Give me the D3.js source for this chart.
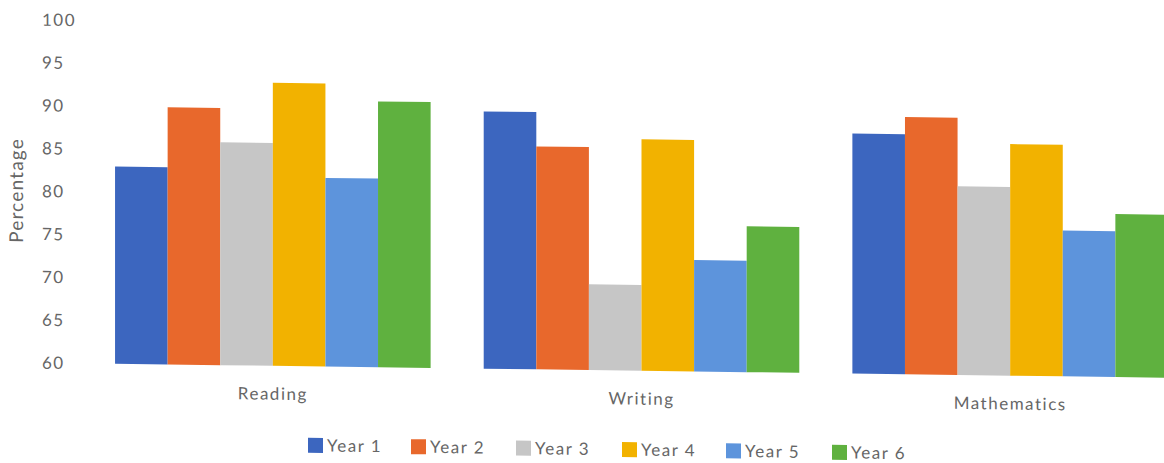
<!DOCTYPE html>
<html>
<head>
<meta charset="utf-8">
<script src="https://cdn.jsdelivr.net/npm/d3@7"></script>
<style>
  html, body { margin: 0; padding: 0; background: #fff; }
  svg { display: block; }
  text { font-family: Lato, "Open Sans", sans-serif; fill: #666; letter-spacing: 1.5px; }
</style>
</head>
<body>
<svg id="chart" width="1164" height="463"></svg>
<script>
// Subjects along the x axis
const subjects = ["Reading", "Writing", "Mathematics"];
// Year groups (one bar each per subject)
const years = ["Year 1", "Year 2", "Year 3", "Year 4", "Year 5", "Year 6"];
// Percentages per year group, in subject order
const year1 = [83, 90, 88];
const year2 = [90, 86, 90];
const year3 = [86, 70, 82];
const year4 = [93, 87, 87];
const year5 = [82, 73, 77];
const year6 = [91, 77, 79];
const yTicks = [60, 65, 70, 75, 80, 85, 90, 95, 100];
const colors = ["#3c66bf", "#e8682c", "#c6c6c6", "#f2b200", "#5d94dc", "#5fb13f"];

const series = [year1, year2, year3, year4, year5, year6];

const svg = d3.select("#chart");
// the whole figure leans slightly downward to the right
const lean = 0.0133;
const g = svg.append("g")
  .attr("transform", `matrix(1, ${lean}, 0, 1, 0, ${-lean * 60})`);

const y = d3.scaleLinear().domain([60, 100]).range([363, 20]);
const x0 = d3.scaleBand().domain(subjects).range([88.5, 1194.5])
  .paddingInner(0.144).paddingOuter(0.072);
const x1 = d3.scaleBand().domain(years).range([0, x0.bandwidth()]).padding(0);

// y tick labels
g.append("g").selectAll("text").data(yTicks).join("text")
  .attr("x", 42)
  .attr("y", d => y(d))
  .attr("dy", "0.35em")
  .style("font-size", "17px")
  .text(d => d);

// axis title
g.append("text")
  .attr("transform", `translate(23, 191) rotate(-90)`)
  .attr("text-anchor", "middle")
  .style("font-size", "19px")
  .style("letter-spacing", "1.2px")
  .text("Percentage");

// bars
const groups = g.append("g").selectAll("g").data(subjects).join("g")
  .attr("transform", d => `translate(${x0(d)},0)`);

groups.selectAll("rect")
  .data((s, i) => years.map((yr, j) => ({ yr, j, v: series[j][i] })))
  .join("rect")
  .attr("x", d => x1(d.yr))
  .attr("width", x1.bandwidth())
  .attr("y", d => y(d.v))
  .attr("height", d => y(60) - y(d.v))
  .attr("fill", d => colors[d.j]);

// category labels
g.append("g").selectAll("text").data(subjects).join("text")
  .attr("x", d => x0(d) + x0.bandwidth() / 2)
  .attr("y", 391)
  .attr("dy", "0.35em")
  .attr("text-anchor", "middle")
  .style("font-size", "17px")
  .text(d => d);

// legend
const legendX = [308, 411, 516, 622, 726, 832];
const legend = g.append("g").selectAll("g").data(years).join("g")
  .attr("transform", (d, i) => `translate(${legendX[i]}, 442)`);
legend.append("rect")
  .attr("x", 0).attr("y", -7.5)
  .attr("width", 15).attr("height", 15)
  .attr("fill", (d, i) => colors[i]);
legend.append("text")
  .attr("x", 19).attr("y", 0)
  .attr("dy", "0.35em")
  .style("font-size", "17px")
  .text(d => d);
</script>
</body>
</html>
